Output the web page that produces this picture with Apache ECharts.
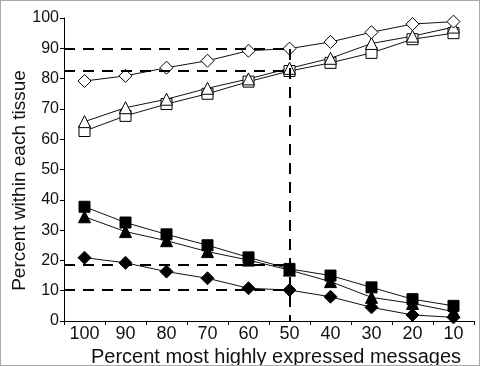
<!DOCTYPE html>
<html>
<head>
<meta charset="utf-8">
<script src="https://cdn.jsdelivr.net/npm/echarts@6/dist/echarts.min.js"></script>
<style>
  html, body { margin: 0; padding: 0; background: #fff; }
  #frame { width: 480px; height: 366px; box-sizing: border-box; border: 1px solid #aaa; }
  #chart { width: 478px; height: 364px; }
</style>
</head>
<body>
<div id="frame"><div id="chart"></div></div>
<script>
const categories = ["100", "90", "80", "70", "60", "50", "40", "30", "20", "10"];

const openDiamond = [79.2, 80.9, 83.6, 85.9, 89.2, 89.9, 92.1, 95.3, 98.0, 98.8];
const openTriangle = [65.8, 70.4, 73.2, 76.8, 79.9, 83.4, 86.7, 91.6, 94.0, 97.0];
const openSquare = [62.7, 67.7, 71.6, 75.0, 79.0, 82.5, 85.2, 88.5, 93.0, 95.0];
const filledSquare = [37.7, 32.5, 28.6, 25.0, 21.0, 17.2, 15.0, 11.1, 7.2, 5.0];
const filledTriangle = [34.4, 29.5, 26.5, 22.9, 20.1, 16.8, 13.0, 7.8, 5.8, 3.1];
const filledDiamond = [20.9, 19.2, 16.3, 14.1, 10.8, 10.2, 8.0, 4.5, 2.0, 1.2];

// dashed guides: horizontal levels run from the y axis to the cutoff
const guideLevels = [89.8, 82.7, 18.5, 10.3];
const guideCutoff = 50;

const chart = echarts.init(document.getElementById("chart"));

function lineSeries(name, values, symbol, size, filled) {
  return {
    name: name,
    type: "line",
    data: values,
    symbol: symbol,
    symbolSize: size,
    showAllSymbol: true,
    lineStyle: { color: "#111", width: 1 },
    itemStyle: { color: filled ? "#000" : "#fff", borderColor: "#000", borderWidth: 1 },
    z: 3,
    animation: false,
  };
}

const guideLines = guideLevels.map((lv) => [{ coord: [105, lv] }, { coord: [guideCutoff, lv] }]);
guideLines.push([{ coord: [guideCutoff, Math.max(...guideLevels)] }, { coord: [guideCutoff, 0] }]);

const option = {
  animation: false,
  grid: { left: 63, right: 5, top: 17, bottom: 44, outerBoundsMode: "none", containLabel: false },
  xAxis: [
    {
      type: "category",
      data: categories,
      boundaryGap: true,
      name: "Percent most highly expressed messages",
      nameLocation: "middle",
      nameGap: 26,
      nameMoveOverlap: false,
      nameTextStyle: { fontFamily: "Liberation Sans", fontSize: 20, color: "#111", padding: [0, 0, 0, 14] },
      axisLine: { lineStyle: { color: "#000", width: 1 } },
      axisTick: { show: true, inside: false, length: 4, alignWithLabel: false, lineStyle: { color: "#000" } },
      axisLabel: { fontFamily: "Liberation Sans", fontSize: 18, color: "#111", margin: 4 },
      splitLine: { show: false },
    },
    {
      type: "value",
      min: 5,
      max: 105,
      inverse: true,
      show: false,
    },
  ],
  yAxis: {
    type: "value",
    min: 0,
    max: 100,
    interval: 10,
    name: "Percent within each tissue",
    nameLocation: "middle",
    nameGap: 35,
    nameMoveOverlap: false,
    nameTextStyle: { fontFamily: "Liberation Sans", fontSize: 19, color: "#111", padding: [0, 22, 0, 0] },
    axisLine: { show: true, lineStyle: { color: "#000", width: 1 } },
    axisTick: { show: true, length: 4, lineStyle: { color: "#000" } },
    axisLabel: { fontFamily: "Liberation Sans", fontSize: 16, color: "#111", margin: 5 },
    splitLine: { show: false },
  },
  series: [
    {
      type: "line",
      xAxisIndex: 1,
      data: [],
      markLine: {
        symbol: "none",
        silent: true,
        label: { show: false },
        lineStyle: { color: "#000", type: [11, 8], width: 2 },
        data: guideLines,
      },
      z: 1,
    },
    lineSeries("filledDiamond", filledDiamond, "diamond", 13, true),
    lineSeries("filledTriangle", filledTriangle, "triangle", 12, true),
    lineSeries("filledSquare", filledSquare, "rect", 11, true),
    lineSeries("openSquare", openSquare, "rect", 11, false),
    lineSeries("openTriangle", openTriangle, "triangle", 12, false),
    lineSeries("openDiamond", openDiamond, "diamond", 13, false),
  ],
};

chart.setOption(option);
</script>
</body>
</html>
